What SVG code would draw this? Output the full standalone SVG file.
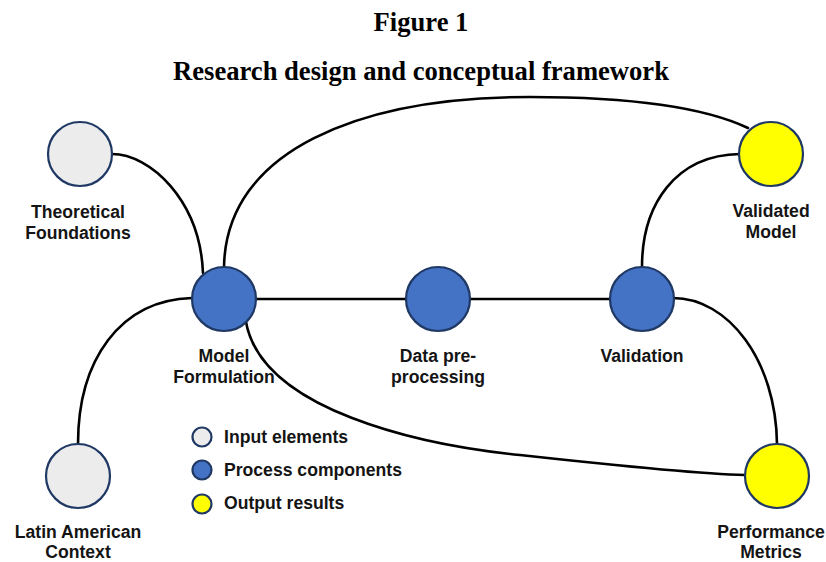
<svg xmlns="http://www.w3.org/2000/svg" width="826" height="562" viewBox="0 0 826 562">
  <style>
    .title { font-family: "Liberation Serif", "Times New Roman", serif; font-weight: bold; font-size: 26.6px; fill: #000; text-anchor: middle; }
    .label { font-family: "Liberation Sans", Arial, sans-serif; font-weight: bold; font-size: 17.6px; fill: #141414; text-anchor: middle; }
    .legend-text { font-family: "Liberation Sans", Arial, sans-serif; font-weight: bold; font-size: 17.6px; fill: #141414; }
    .edge { fill: none; stroke: #000; stroke-width: 2.6; stroke-linecap: round; }
    .node { stroke: #1f3864; stroke-width: 2.2; }
    .input { fill: #ececec; }
    .process { fill: #4472c4; }
    .output { fill: #ffff00; }
  </style>

  <rect width="826" height="562" fill="#fff"/>

  <text class="title" x="421" y="31">Figure 1</text>
  <text class="title" x="421" y="80">Research design and conceptual framework</text>

  <g id="connectors">
    <path class="edge" d="M112,154 C150,154 200,200 203,273"/>
    <path class="edge" d="M78,444 C78,360 120,300 192,298"/>
    <path class="edge" d="M224,267 C226,150 360,97 530,97 C640,97 710,110 748,128"/>
    <path class="edge" d="M256,299 L406,299"/>
    <path class="edge" d="M471,299 L610,299"/>
    <path class="edge" d="M642,267 C642,205 675,155 740,154"/>
    <path class="edge" d="M673,298 C728,298 776,360 777,444"/>
    <path class="edge" d="M246,322 C262,410 420,445 520,455 C620,466 700,474 745,475"/>
  </g>

  <g id="theoretical-foundations">
    <circle class="node input" cx="80" cy="154" r="32"/>
    <text class="label" x="78" y="218">Theoretical</text>
    <text class="label" x="78" y="239">Foundations</text>
  </g>

  <g id="latin-american-context">
    <circle class="node input" cx="78" cy="476" r="32"/>
    <text class="label" x="78" y="538">Latin American</text>
    <text class="label" x="78" y="558">Context</text>
  </g>

  <g id="model-formulation">
    <circle class="node process" cx="224" cy="299" r="32"/>
    <text class="label" x="224" y="362">Model</text>
    <text class="label" x="224" y="383">Formulation</text>
  </g>

  <g id="data-preprocessing">
    <circle class="node process" cx="438" cy="299" r="32"/>
    <text class="label" x="438" y="362">Data pre-</text>
    <text class="label" x="438" y="383">processing</text>
  </g>

  <g id="validation">
    <circle class="node process" cx="642" cy="299" r="32"/>
    <text class="label" x="642" y="362">Validation</text>
  </g>

  <g id="validated-model">
    <circle class="node output" cx="771" cy="154" r="32"/>
    <text class="label" x="771" y="217">Validated</text>
    <text class="label" x="771" y="238">Model</text>
  </g>

  <g id="performance-metrics">
    <circle class="node output" cx="777" cy="476" r="32"/>
    <text class="label" x="771" y="538">Performance</text>
    <text class="label" x="771" y="558">Metrics</text>
  </g>

  <g id="legend">
    <circle class="node input" cx="202" cy="437" r="9.5"/>
    <text class="legend-text" x="224" y="443">Input elements</text>
    <circle class="node process" cx="202" cy="470" r="9.5"/>
    <text class="legend-text" x="224" y="476">Process components</text>
    <circle class="node output" cx="202" cy="504" r="9.5"/>
    <text class="legend-text" x="224" y="509">Output results</text>
  </g>
</svg>
